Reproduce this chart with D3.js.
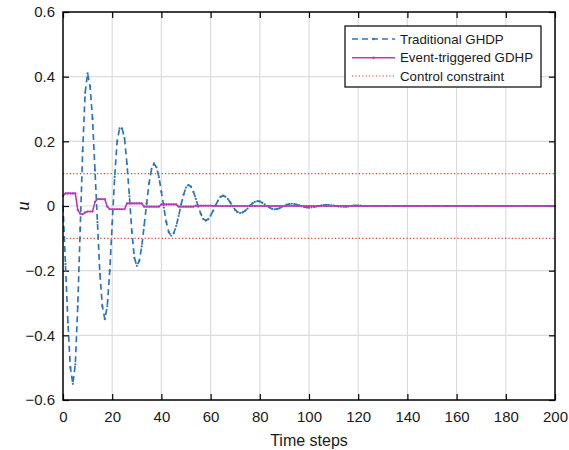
<!DOCTYPE html>
<html><head><meta charset="utf-8">
<script src="https://cdn.jsdelivr.net/npm/d3@7"></script>
<style>body{margin:0;background:#fff}svg{display:block}</style>
</head><body>
<svg id="c" width="569" height="450"></svg>
<script>
// ---- data ----
const xTicks = [0,20,40,60,80,100,120,140,160,180,200];
const yTicks = [-0.6,-0.4,-0.2,0,0.2,0.4,0.6];
const seriesNames = ["Traditional GHDP","Event-triggered GDHP","Control constraint"];
const constraintLevels = [0.1,-0.1];
// Traditional GHDP, u at steps 0..200
const traditionalU = [
 0.00,-0.18,-0.36,-0.50,-0.55,-0.49,-0.31,-0.07,0.17,0.35,
 0.41,0.37,0.27,0.11,-0.05,-0.21,-0.31,-0.35,-0.31,-0.20,
 -0.055,0.09,0.20,0.24,0.24,0.21,0.13,0.03,-0.08,-0.16,
 -0.185,-0.17,-0.125,-0.06,0.008,0.071,0.115,0.131,0.12,0.089,
 0.044,-0.005,-0.05,-0.081,-0.092,-0.084,-0.062,-0.031,0.004,0.035,
 0.057,0.065,0.06,0.044,0.022,-0.002,-0.024,-0.04,-0.045,-0.041,
 -0.030,-0.015,0.002,0.017,0.028,0.032,0.029,0.022,0.011,-0.001,
 -0.012,-0.019,-0.022,-0.020,-0.015,-0.008,0.001,0.008,0.013,0.015,
 0.014,0.010,0.005,0.000,-0.005,-0.009,-0.010,-0.009,-0.007,-0.003,
 0.000,0.004,0.006,0.007,0.006,0.004,0.002,-0.001,-0.003,-0.004,
 -0.005,-0.004,-0.003,-0.001,0.000,0.002,0.003,0.003,0.003,0.002,
 0.001,0.000,-0.001,-0.002,-0.002,-0.002,-0.001,0.000,0.001,0.001,
 0.001,0.001,0,0,0,0,0,0,0,0,
 0,0,0,0,0,0,0,0,0,0,
 0,0,0,0,0,0,0,0,0,0,
 0,0,0,0,0,0,0,0,0,0,
 0,0,0,0,0,0,0,0,0,0,
 0,0,0,0,0,0,0,0,0,0,
 0,0,0,0,0,0,0,0,0,0,
 0,0,0,0,0,0,0,0,0,0,
 0
];
// Event-triggered GDHP, u at steps 0..200
const eventU = [
 0.031,0.039,0.039,0.039,0.039,0.039,-0.012,-0.024,-0.025,-0.020,
 -0.017,-0.017,-0.017,0.013,0.021,0.021,0.021,0.021,-0.002,-0.010,
 -0.010,-0.010,-0.010,-0.010,-0.010,-0.010,0.008,0.008,0.008,0.008,
 0.008,0.008,0.008,-0.002,-0.002,-0.002,-0.002,-0.002,-0.002,-0.002,
 0.005,0.005,0.005,0.005,0.005,0.005,0.005,-0.002,-0.002,-0.002,
 -0.002,-0.002,-0.002,-0.002,0.001,0.001,0.001,0.001,0.001,0.001,
 0.001,0,0,0,0,0,0,0,0,0,
 0,0,0,0,0,0,0,0,0,0,
 0,0,0,0,0,0,0,0,0,0,
 0,0,0,0,0,0,0,0,0,0,
 0,0,0,0,0,0,0,0,0,0,
 0,0,0,0,0,0,0,0,0,0,
 0,0,0,0,0,0,0,0,0,0,
 0,0,0,0,0,0,0,0,0,0,
 0,0,0,0,0,0,0,0,0,0,
 0,0,0,0,0,0,0,0,0,0,
 0,0,0,0,0,0,0,0,0,0,
 0,0,0,0,0,0,0,0,0,0,
 0,0,0,0,0,0,0,0,0,0,
 0,0,0,0,0,0,0,0,0,0,
 0
];

// ---- layout ----
const W=569,H=450, m={l:63,r:14,t:12,b:50};
const iw=W-m.l-m.r, ih=H-m.t-m.b;
const blue="#2f76b8", mag="#b93cb6", red="#e8382e";
const font="'Liberation Sans', Arial, Helvetica, sans-serif";

const svg=d3.select("#c");
const g=svg.append("g").attr("transform",`translate(${m.l},${m.t})`);
const x=d3.scaleLinear().domain([0,200]).range([0,iw]);
const y=d3.scaleLinear().domain([-0.6,0.6]).range([ih,0]);

// grid
g.append("g").selectAll("line").data(xTicks.slice(1,-1)).join("line")
 .attr("x1",d=>x(d)).attr("x2",d=>x(d)).attr("y1",0).attr("y2",ih)
 .attr("stroke","#dcdcdc").attr("stroke-width",1.2);
g.append("g").selectAll("line").data(yTicks.slice(1,-1)).join("line")
 .attr("y1",d=>y(d)).attr("y2",d=>y(d)).attr("x1",0).attr("x2",iw)
 .attr("stroke","#dcdcdc").attr("stroke-width",1.2);

// axes
const fmt=d=>d===0?"0":d3.format("")(d);
const ax=g.append("g").attr("transform",`translate(0,${ih})`)
 .call(d3.axisBottom(x).tickValues(xTicks).tickSizeInner(-6).tickSizeOuter(0).tickPadding(11));
const ay=g.append("g")
 .call(d3.axisLeft(y).tickValues(yTicks).tickFormat(fmt).tickSizeInner(-6).tickSizeOuter(0).tickPadding(8));
const axT=g.append("g").call(d3.axisTop(x).tickValues(xTicks).tickSizeInner(-6).tickSizeOuter(0).tickFormat(""));
const ayR=g.append("g").attr("transform",`translate(${iw},0)`)
 .call(d3.axisRight(y).tickValues(yTicks).tickSizeInner(-6).tickSizeOuter(0).tickFormat(""));
[ax,ay,axT,ayR].forEach(a=>{
  a.select(".domain").remove();
  a.selectAll("line").attr("stroke","#000").attr("stroke-width",1.2);
  a.selectAll("text").attr("font-family",font).attr("font-size",15).attr("fill","#1a1a1a");
});

// constraint lines
constraintLevels.forEach(v=>{
  g.append("line").attr("x1",x(0)).attr("x2",x(200)).attr("y1",y(v)).attr("y2",y(v))
   .attr("stroke",red).attr("stroke-width",1.2).attr("stroke-dasharray","1.2,2.2");
});

// traditional GHDP
const line=d3.line().x((d,i)=>x(i)).y(d=>y(d));
g.append("path").datum(traditionalU).attr("d",line).attr("fill","none")
 .attr("stroke",blue).attr("stroke-width",1.7).attr("stroke-dasharray","6,4");
g.append("g").selectAll("circle").data(traditionalU).join("circle")
 .attr("cx",(d,i)=>x(i)).attr("cy",d=>y(d)).attr("r",1.1).attr("fill",blue);

// event-triggered GDHP
g.append("path").datum(eventU).attr("d",line).attr("fill","none")
 .attr("stroke",mag).attr("stroke-width",1.6);
g.append("g").selectAll("circle").data(eventU).join("circle")
 .attr("cx",(d,i)=>x(i)).attr("cy",d=>y(d)).attr("r",1.1).attr("fill",mag);

// box
g.append("rect").attr("x",0).attr("y",0).attr("width",iw).attr("height",ih)
 .attr("fill","none").attr("stroke","#000").attr("stroke-width",1.5);

// axis titles
svg.append("text").attr("x",m.l+iw/2).attr("y",446).attr("text-anchor","middle")
 .attr("font-family",font).attr("font-size",16).attr("fill","#1a1a1a").text("Time steps");
svg.append("text").attr("transform",`translate(29,${m.t+y(0)}) rotate(-90)`)
 .attr("text-anchor","middle").attr("font-family","'Liberation Serif','Times New Roman',serif")
 .attr("font-style","italic").attr("font-size",19).attr("fill","#1a1a1a").text("u");

// legend
const lg=svg.append("g");
lg.append("rect").attr("x",345).attr("y",26).attr("width",196).attr("height",61)
 .attr("fill","#fff").attr("stroke","#000").attr("stroke-width",1.2);
const rows=[39,57.7,76];
const styles=[{c:blue,w:1.7,da:"6,4",dot:true},{c:mag,w:1.6,da:null,dot:true},{c:red,w:1.2,da:"1.2,2.2",dot:false}];
seriesNames.forEach((name,i)=>{
  const s=styles[i];
  const ln=lg.append("line").attr("x1",352).attr("x2",395).attr("y1",rows[i]).attr("y2",rows[i])
   .attr("stroke",s.c).attr("stroke-width",s.w);
  if(s.da) ln.attr("stroke-dasharray",s.da);
  if(s.dot) lg.append("circle").attr("cx",373.5).attr("cy",rows[i]).attr("r",1.3).attr("fill",s.c);
  lg.append("text").attr("x",400).attr("y",rows[i]+4.6).attr("font-family",font)
   .attr("font-size",13.3).attr("fill","#1a1a1a").text(name);
});
</script>
</body></html>
